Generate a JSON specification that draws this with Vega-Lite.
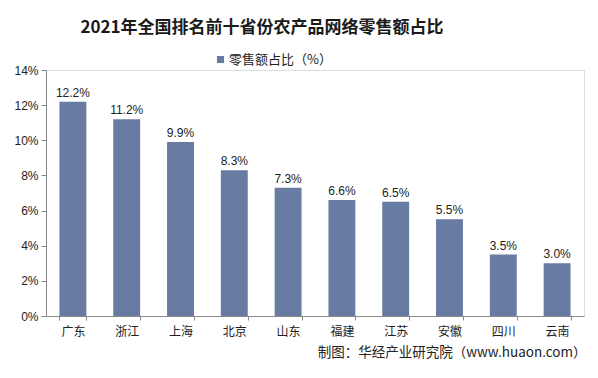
{
  "$schema": "https://vega.github.io/schema/vega-lite/v6.json",
  "width": 538,
  "height": 246,
  "autosize": "none",
  "padding": {"left": 46, "top": 70, "right": 14, "bottom": 62},
  "background": "white",
  "title": {
    "text": "2021年全国排名前十省份农产品网络零售额占比",
    "font": "Noto Sans CJK SC",
    "fontSize": 17,
    "fontWeight": "bold",
    "color": "#1a1a1a",
    "anchor": "middle",
    "dx": -53,
    "offset": 16
  },
  "data": {
    "values": [
      {"province": "广东", "share": 0.122},
      {"province": "浙江", "share": 0.112},
      {"province": "上海", "share": 0.099},
      {"province": "北京", "share": 0.083},
      {"province": "山东", "share": 0.073},
      {"province": "福建", "share": 0.066},
      {"province": "江苏", "share": 0.065},
      {"province": "安徽", "share": 0.055},
      {"province": "四川", "share": 0.035},
      {"province": "云南", "share": 0.030}
    ]
  },
  "encoding": {
    "x": {
      "field": "province",
      "type": "nominal",
      "sort": null,
      "scale": {"paddingInner": 0.5, "paddingOuter": 0.25},
      "axis": {
        "title": "制图：华经产业研究院（www.huaon.com）",
        "titleFont": "Noto Sans CJK SC",
        "titleFontSize": 13.5,
        "titleFontWeight": "normal",
        "titleColor": "#222",
        "titleAnchor": "end",
        "titleAlign": "right",
        "titleX": 540,
        "titlePadding": 8,
        "labelAngle": 0,
        "labelFont": "Noto Sans CJK SC",
        "labelFontSize": 12,
        "labelColor": "#222",
        "labelPadding": 6,
        "tickBand": "extent",
        "tickSize": 4,
        "tickColor": "#888",
        "domainColor": "#888"
      }
    },
    "y": {
      "field": "share",
      "type": "quantitative",
      "scale": {"domain": [0, 0.14]},
      "axis": {
        "title": null,
        "values": [0, 0.02, 0.04, 0.06, 0.08, 0.1, 0.12, 0.14],
        "format": ".0%",
        "labelFont": "Liberation Sans",
        "labelFontSize": 12,
        "labelColor": "#222",
        "grid": false,
        "tickSize": 5,
        "tickColor": "#888",
        "domainColor": "#888",
        "labelPadding": 3
      }
    }
  },
  "layer": [
    {
      "mark": {"type": "bar", "color": "#687BA2"},
      "encoding": {
        "color": {
          "datum": "零售额占比（%）",
          "scale": {"range": ["#687BA2"]},
          "legend": {
            "title": null,
            "orient": "none",
            "legendX": 168,
            "legendY": -17,
            "symbolType": "square",
            "symbolSize": 50,
            "labelFont": "Noto Sans CJK SC",
            "labelFontSize": 13,
            "labelColor": "#222",
            "labelOffset": 2
          }
        }
      }
    },
    {
      "mark": {"type": "text", "dy": -9, "font": "Liberation Sans", "fontSize": 12, "color": "#222"},
      "encoding": {
        "text": {"field": "share", "type": "quantitative", "format": ".1%"}
      }
    }
  ]
}
